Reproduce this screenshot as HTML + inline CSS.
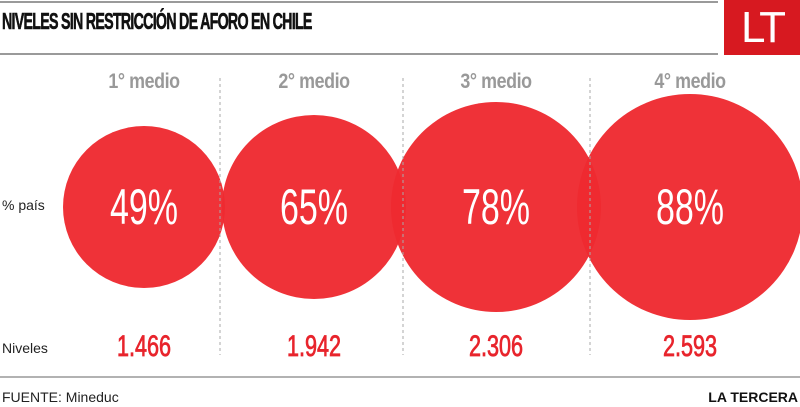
<!DOCTYPE html>
<html><head><style>
body{margin:0;width:800px;height:407px;background:#fff;position:relative;overflow:hidden;font-family:"Liberation Sans",sans-serif}
.a{position:absolute}
.h{left:0;width:718px;height:2px;background:#9a9a9a}
.t{left:2px;top:8px;font-weight:bold;font-size:23px;letter-spacing:-1.2px;color:#111;transform:scaleX(0.62);transform-origin:left;white-space:nowrap;-webkit-text-stroke:0.6px #111}
.lt{left:724px;top:0;width:76px;height:55px;background:#d71920;color:#fff;font-size:44px;line-height:55px;text-align:center;letter-spacing:-3px}
.m{top:70px;width:140px;text-align:center;font-weight:bold;font-size:21px;color:#999;transform:scaleX(0.85);letter-spacing:-0.5px}
.n{top:330px;width:140px;text-align:center;font-size:30px;color:#e8242c;transform:scaleX(0.72);-webkit-text-stroke:0.8px #e8242c}
.p{width:200px;text-align:center;font-size:50px;color:#fff;transform:scaleX(0.68);top:178px}
</style></head><body>
<div class="a h" style="top:1px"></div>
<div class="a h" style="top:53px"></div>
<div class="a t">NIVELES SIN RESTRICCIÓN DE AFORO EN CHILE</div>
<div class="a lt">LT</div>
<svg class="a" style="left:0;top:0" width="800" height="407">
<g fill="#ee2a30" fill-opacity="0.96">
<circle cx="144" cy="207" r="81"/>
<circle cx="314" cy="207" r="92"/>
<circle cx="496" cy="207" r="105"/>
<circle cx="690" cy="207" r="113"/>
</g>
<g stroke="#aaa" stroke-dasharray="3,3" stroke-width="1">
<line x1="220" y1="78" x2="220" y2="355"/>
<line x1="403" y1="78" x2="403" y2="355"/>
<line x1="590" y1="78" x2="590" y2="355"/>
</g>
<line x1="0" y1="377" x2="800" y2="377" stroke="#999" stroke-width="1.5"/>
</svg>
<div class="a m" style="left:74px">1° medio</div>
<div class="a m" style="left:244px">2° medio</div>
<div class="a m" style="left:426px">3° medio</div>
<div class="a m" style="left:620px">4° medio</div>
<div class="a p" style="left:44px">49%</div>
<div class="a p" style="left:214px">65%</div>
<div class="a p" style="left:396px">78%</div>
<div class="a p" style="left:590px">88%</div>
<div class="a" style="left:2px;top:197px;font-size:14px;color:#222">% país</div>
<div class="a" style="left:2px;top:340px;font-size:14px;color:#222">Niveles</div>
<div class="a n" style="left:74px">1.466</div>
<div class="a n" style="left:244px">1.942</div>
<div class="a n" style="left:426px">2.306</div>
<div class="a n" style="left:620px">2.593</div>
<div class="a" style="left:2px;top:389px;font-size:14px;color:#222">FUENTE: Mineduc</div>
<div class="a" style="right:2px;top:389px;font-size:14px;font-weight:bold;color:#111">LA TERCERA</div>
</body></html>
